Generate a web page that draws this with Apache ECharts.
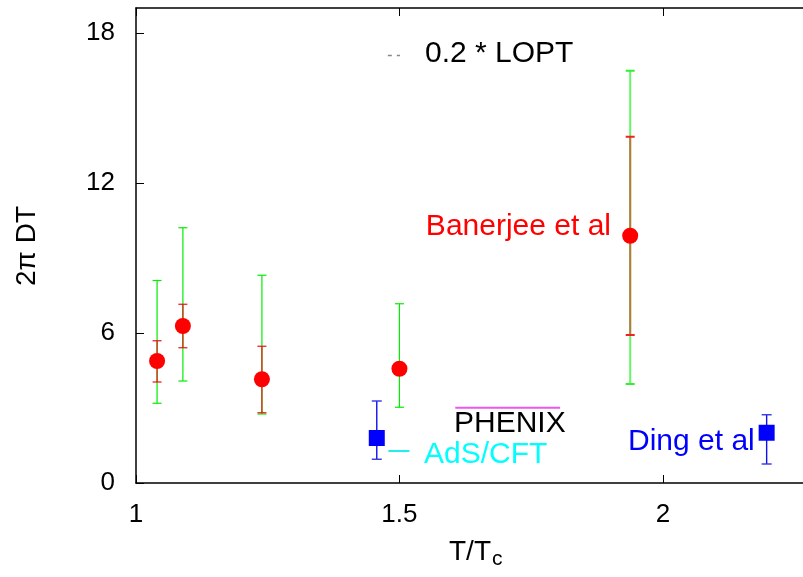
<!DOCTYPE html>
<html><head><meta charset="utf-8">
<script src="https://cdn.jsdelivr.net/npm/echarts@6/dist/echarts.min.js"></script>
<style>html,body{margin:0;padding:0;background:#fff}#c{width:803px;height:577px}</style>
</head><body><div id="c"></div>
<script>
// ---- data ----
const banerjeeT = [1.040, 1.089, 1.239, 1.500, 1.938];
const banerjeeD = [4.88, 6.28, 4.15, 4.57, 9.89];
const banerjeeStatLo = [4.04, 5.41, 2.81, null, 5.92];
const banerjeeStatHi = [5.69, 7.15, 5.47, null, 13.85];
const banerjeeSysLo = [3.19, 4.08, 2.76, 3.03, 3.96];
const banerjeeSysHi = [8.10, 10.21, 8.31, 7.17, 16.49];
const dingT = [1.457, 2.197];
const dingD = [1.80, 2.01];
const dingLo = [0.95, 0.76];
const dingHi = [3.28, 2.73];
const phenixT = [1.606, 1.805];
const phenixD = [3.01, 3.01];
const adsT = [1.479, 1.519];
const adsD = [1.28, 1.28];
const loptKeyT = [1.478, 1.501];
const loptKeyD = [17.1, 17.1];
const xTicks = [1, 1.5, 2];
const yTicks = [0, 6, 12, 18];
const X_MIN = 1, X_MAX = 2.266, Y_MIN = 0, Y_MAX = 19;

const FONT = 'Liberation Sans';
const chart = echarts.init(document.getElementById('c'), null, {renderer: 'canvas'});

function zip3(a, b, c) {
  const out = [];
  for (let i = 0; i < a.length; i++) if (b[i] != null && c[i] != null) out.push([a[i], b[i], c[i], i]);
  return out;
}
function errSeries(data, capHalf, styleFn, z) {
  return {
    type: 'custom', z: z, silent: true,
    data: data,
    encode: {x: 0, y: [1, 2]},
    renderItem: function (params, api) {
      const x = api.value(0), lo = api.value(1), hi = api.value(2), idx = api.value(3);
      const a = api.coord([x, lo]), b = api.coord([x, hi]);
      const s = styleFn(idx);
      return {
        type: 'group',
        children: [
          {type: 'line', shape: {x1: a[0], y1: a[1], x2: b[0], y2: b[1]}, style: {stroke: s.line, lineWidth: s.w}},
          {type: 'line', shape: {x1: a[0] - capHalf, y1: a[1], x2: a[0] + capHalf, y2: a[1]}, style: {stroke: s.cap, lineWidth: s.w}},
          {type: 'line', shape: {x1: b[0] - capHalf, y1: b[1], x2: b[0] + capHalf, y2: b[1]}, style: {stroke: s.cap, lineWidth: s.w}}
        ]
      };
    }
  };
}
const lastIdx = banerjeeT.length - 1;

const axisLineStyle = {color: '#000', width: 1.5};
const option = {
  animation: false,
  grid: {left: 136, right: 0, top: 8, bottom: 94},
  xAxis: [{
    type: 'value', min: X_MIN, max: X_MAX, position: 'bottom',
    axisLine: {onZero: false, lineStyle: axisLineStyle},
    axisTick: {inside: true, length: 8, lineStyle: {color: '#000', width: 1}, customValues: xTicks},
    axisLabel: {customValues: xTicks, fontSize: 26, fontFamily: FONT, color: '#000', margin: 19},
    splitLine: {show: false}
  }, {
    type: 'value', min: X_MIN, max: X_MAX, position: 'top',
    axisLine: {onZero: false, lineStyle: axisLineStyle},
    axisTick: {inside: true, length: 8, lineStyle: {color: '#000', width: 1}, customValues: xTicks},
    axisLabel: {show: false},
    splitLine: {show: false}
  }],
  yAxis: [{
    type: 'value', min: Y_MIN, max: Y_MAX, position: 'left',
    axisLine: {onZero: false, lineStyle: axisLineStyle},
    axisTick: {inside: true, length: 8, lineStyle: {color: '#000', width: 1}, customValues: yTicks},
    axisLabel: {customValues: yTicks, fontSize: 26, fontFamily: FONT, color: '#000', margin: 21},
    splitLine: {show: false}
  }],
  series: [
    // systematic (green) error bars
    errSeries(zip3(banerjeeT, banerjeeSysLo, banerjeeSysHi), 4.5, function (i) {
      return i === lastIdx ? {line: '#66f766', cap: '#33ee33', w: 2} : {line: '#00ee00', cap: '#00ee00', w: 1.2};
    }, 2),
    // statistical (red) error bars
    errSeries(zip3(banerjeeT, banerjeeStatLo, banerjeeStatHi), 4.5, function (i) {
      return i === lastIdx ? {line: '#b8783e', cap: '#ee2222', w: 2} : {line: '#ee1111', cap: '#ee1111', w: 1.2};
    }, 3),
    // Ding et al error bars
    errSeries(zip3(dingT, dingLo, dingHi), 5, function () {
      return {line: '#1111ee', cap: '#3333ee', w: 1.4};
    }, 3),
    {
      name: 'Banerjee et al', type: 'scatter', z: 5,
      data: banerjeeT.map((t, i) => [t, banerjeeD[i]]),
      symbol: 'circle', symbolSize: 16,
      itemStyle: {color: '#ff0000', opacity: 1}
    },
    {
      name: 'Ding et al', type: 'scatter', z: 5,
      data: dingT.map((t, i) => [t, dingD[i]]),
      symbol: 'rect', symbolSize: 16,
      itemStyle: {color: '#0000ff', opacity: 1}
    },
    {
      name: 'PHENIX', type: 'line', z: 4,
      data: phenixT.map((t, i) => [t, phenixD[i]]),
      symbol: 'none', lineStyle: {color: '#ee55ee', width: 2}
    },
    {
      name: 'AdS/CFT', type: 'line', z: 4,
      data: adsT.map((t, i) => [t, adsD[i]]),
      symbol: 'none', lineStyle: {color: '#22eeee', width: 2}
    },
    {
      name: '0.2 * LOPT', type: 'line', z: 4,
      data: loptKeyT.map((t, i) => [t, loptKeyD[i]]),
      symbol: 'none', lineStyle: {color: '#888', width: 1.3, type: [4, 5]}
    }
  ],
  graphic: [
    {type: 'text', left: 425, top: 39, style: {text: '0.2 * LOPT', font: '30px ' + FONT, fill: '#000'}},
    {type: 'text', right: 803 - 611, top: 212, style: {text: 'Banerjee et al', font: '30px ' + FONT, fill: '#ff0000'}},
    {type: 'text', left: 454, top: 409, style: {text: 'PHENIX', font: '30px ' + FONT, fill: '#000'}},
    {type: 'text', left: 424, top: 440, style: {text: 'AdS/CFT', font: '30px ' + FONT, fill: '#00ffff'}},
    {type: 'text', left: 628, top: 427, style: {text: 'Ding et al', font: '30px ' + FONT, fill: '#0000ff'}},
    {type: 'text', left: 449, top: 538, style: {
      rich: {n: {fontSize: 28, fontFamily: FONT, fill: '#000'}, s: {fontSize: 21, fontFamily: FONT, fill: '#000', padding: [15, 0, 0, 1]}},
      text: '{n|T/T}{s|c}'
    }},
    {type: 'text', x: 13, y: 286, rotation: Math.PI / 2, style: {text: '2π DT', font: '28px ' + FONT, fill: '#000'}}
  ]
};
chart.setOption(option);
</script>
</body></html>
